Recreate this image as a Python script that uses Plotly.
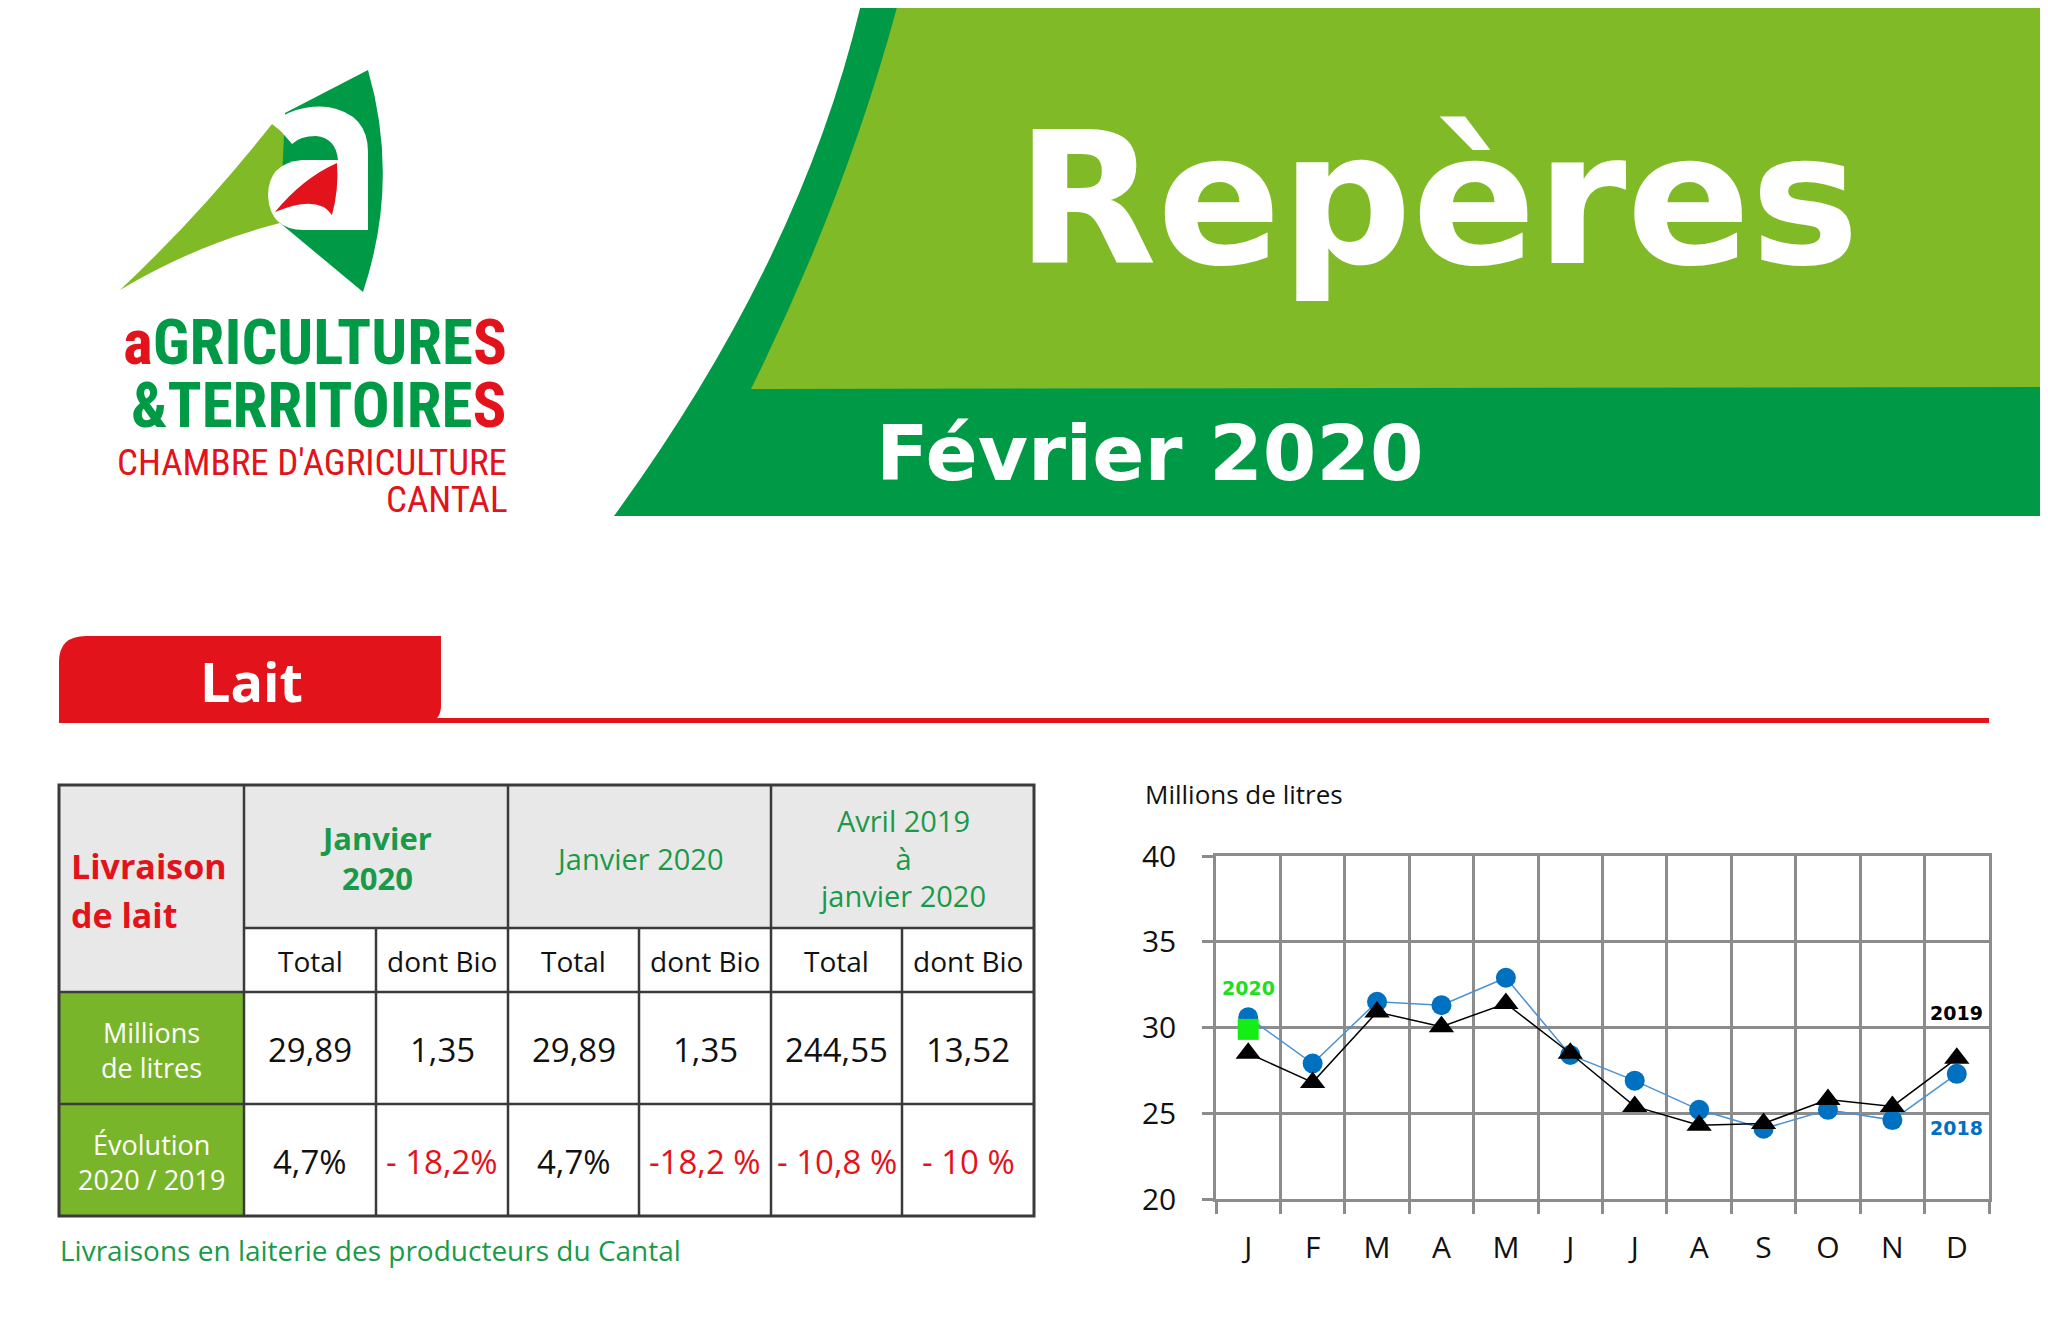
import plotly.graph_objects as go

W, H = 2048, 1344
OFF = 8                          # the page body margin shifts the figure by 8 px
FW, FH = W - OFF, H - 2 * OFF    # figure size that fills the window without scrollbars

# ---------------- data ----------------
months = ["J", "F", "M", "A", "M", "J", "J", "A", "S", "O", "N", "D"]
lait_2018 = [30.6, 27.9, 31.5, 31.3, 32.9, 28.4, 26.9, 25.2, 24.1, 25.2, 24.6, 27.3]
lait_2019 = [28.5, 26.8, 30.9, 30.05, 31.4, 28.5, 25.4, 24.3, 24.4, 25.8, 25.4, 28.2]
lait_2020 = [29.89]
series_names = ["2018", "2019", "2020"]
y_ticks = [20, 25, 30, 35, 40]

row_title = ["Livraison", "de lait"]
group_titles = [["Janvier", "2020"], ["Janvier 2020"], ["Avril 2019", "à", "janvier 2020"]]
sub_titles = ["Total", "dont Bio", "Total", "dont Bio", "Total", "dont Bio"]
row_labels = [["Millions", "de litres"], ["Évolution", "2020 / 2019"]]
volumes = ["29,89", "1,35", "29,89", "1,35", "244,55", "13,52"]
evolutions = ["4,7%", "- 18,2%", "4,7%", "-18,2 %", "- 10,8 %", "- 10 %"]

title_main = "Repères"
title_date = "Février 2020"
section = "Lait"
caption = "Livraisons en laiterie des producteurs du Cantal"
y_title = "Millions de litres"

# ---------------- colours ----------------
LIGHT_GREEN = "#80ba27"
DARK_GREEN = "#009a46"
RED = "#e3131b"
TABLE_GREEN = "#79b52b"
GRAY_CELL = "#e8e8e8"
TEXT_GREEN = "#1a9a48"
BLUE = "#0070c0"
BLUE_LINE = "#4b92d4"
GRID = "#8c8c8c"
BORDER = "#3a3a3a"
BRIGHT_GREEN = "#14ee14"
TXT = "#111111"

SANS = "Open Sans, Noto Sans, sans-serif"
VERD = "DejaVu Sans, Verdana, sans-serif"
NARROW = "Liberation Sans Narrow, Arial Narrow, Roboto Condensed, DejaVu Sans Condensed, sans-serif"


def fx(x):
    return (x - OFF) / FW


def fy(y):
    return 1 - (y - OFF) / FH


def path(cmds):
    out = []
    for c in cmds:
        op, nums = c[0], c[1:]
        pts = [f"{fx(nums[i]):.5f},{fy(nums[i + 1]):.5f}" for i in range(0, len(nums), 2)]
        out.append(op + " ".join(pts))
    return " ".join(out)


shapes = []
annotations = []


def add_path(cmds, color):
    shapes.append(dict(type="path", xref="paper", yref="paper", path=path(cmds),
                       fillcolor=color, line=dict(width=0), layer="above"))


def add_rect(x0, y0, x1, y1, fill=None, line_color=None, line_width=0):
    d = dict(type="rect", xref="paper", yref="paper", x0=fx(x0), x1=fx(x1), y0=fy(y1), y1=fy(y0),
             layer="above", line=dict(width=line_width, color=line_color or "rgba(0,0,0,0)"))
    d["fillcolor"] = fill if fill else "rgba(0,0,0,0)"
    shapes.append(d)


def add_line(x0, y0, x1, y1, color=BORDER, width=2.5):
    shapes.append(dict(type="line", xref="paper", yref="paper", x0=fx(x0), x1=fx(x1), y0=fy(y0), y1=fy(y1),
                       line=dict(color=color, width=width), layer="above"))


def add_text(s, x, y, size, color, family=SANS, bold=False, xanchor="center", yanchor="middle"):
    annotations.append(dict(text=s, x=fx(x), y=fy(y), xref="paper", yref="paper", showarrow=False,
                            xanchor=xanchor, yanchor=yanchor, borderpad=0,
                            font=dict(family=family, size=size, color=color,
                                      weight="bold" if bold else "normal")))


# ---------------- banner ----------------
add_path([("M", 862, -10), ("L", 2060, -10), ("L", 2060, 516), ("L", 614, 516), ("Q", 802, 258, 862, 0),
          ("Z",)], DARK_GREEN)
add_path([("M", 899, -10), ("L", 2060, -10), ("L", 2060, 387), ("L", 751, 389), ("Q", 847, 195, 899, 0),
          ("Z",)], LIGHT_GREEN)
add_text(title_main, 1437, 199, 183, "white", family=VERD, bold=True)
add_text(title_date, 1150, 454, 77, "white", family=VERD, bold=True)

# ---------------- logo ----------------
add_path([("M", 120, 290), ("Q", 200, 215, 272, 124), ("L", 292, 140), ("L", 340, 150), ("L", 340, 215),
          ("L", 280, 223), ("Q", 195, 245, 120, 290), ("Z",)], LIGHT_GREEN)
add_path([("M", 368, 70), ("L", 285, 113), ("L", 280, 223), ("L", 363, 292), ("Q", 400, 181, 368, 70), ("Z",)],
         DARK_GREEN)
add_path([("M", 273, 122), ("Q", 298, 104, 328, 107), ("Q", 368, 114, 368, 152), ("L", 368, 230),
          ("L", 338, 230), ("L", 338, 160), ("Q", 336, 138, 316, 136), ("Q", 300, 136, 292, 144), ("Z",)],
         "white")
add_path([("M", 338, 160), ("L", 302, 160), ("Q", 268, 163, 268, 196), ("Q", 270, 230, 304, 230),
          ("L", 338, 230), ("Z",)], "white")
add_path([("M", 275, 212), ("Q", 303, 178, 337, 163), ("Q", 339, 190, 332, 215), ("Q", 318, 194, 275, 212),
          ("Z",)], RED)
add_text(f"<span style='color:{RED}'>a</span>GRICULTURE<span style='color:{RED}'>S</span>",
         508, 343, 63, DARK_GREEN, family=NARROW, bold=True, xanchor="right")
add_text(f"&amp;TERRITOIRE<span style='color:{RED}'>S</span>",
         508, 405, 63, DARK_GREEN, family=NARROW, bold=True, xanchor="right")
add_text("CHAMBRE D'AGRICULTURE", 508, 462, 37, RED, family=NARROW, xanchor="right")
add_text("CANTAL", 508, 499, 37, RED, family=NARROW, xanchor="right")

# ---------------- section tab ----------------
add_path([("M", 59, 723), ("L", 59, 662), ("Q", 59, 636, 86, 636), ("L", 441, 636), ("L", 441, 706),
          ("Q", 441, 720, 428, 723), ("Z",)], RED)
add_rect(59, 718, 1989, 723, fill=RED)
add_text(section, 251, 681, 54, "white", bold=True)

# ---------------- table ----------------
cols = [59, 244, 376, 508, 639, 771, 902, 1034]
rows = [785, 928, 992, 1104, 1216]

add_rect(cols[0], rows[0], cols[1], rows[2], fill=GRAY_CELL)
add_rect(cols[1], rows[0], cols[7], rows[1], fill=GRAY_CELL)
add_rect(cols[1], rows[1], cols[7], rows[2], fill="white")
add_rect(cols[0], rows[2], cols[1], rows[4], fill=TABLE_GREEN)

for x in [cols[1], cols[3], cols[5]]:
    add_line(x, rows[0], x, rows[4])
for x in [cols[2], cols[4], cols[6]]:
    add_line(x, rows[1], x, rows[4])
add_line(cols[1], rows[1], cols[7], rows[1])
add_line(cols[0], rows[2], cols[7], rows[2])
add_line(cols[0], rows[3], cols[7], rows[3])
add_rect(cols[0], rows[0], cols[7], rows[4], line_color=BORDER, line_width=3)

# row title (two separate lines, wide spacing)
for s, y in zip(row_title, [866, 915]):
    add_text(s, 70, y, 34, RED, bold=True, xanchor="left")
# group titles
group_centers = [(cols[1] + cols[3]) / 2, (cols[3] + cols[5]) / 2, (cols[5] + cols[7]) / 2]
for gi, lines in enumerate(group_titles):
    add_text("<br>".join(lines), group_centers[gi], 858, 31 if gi == 0 else 29,
             TEXT_GREEN, bold=(gi == 0))
# sub titles
for i, s in enumerate(sub_titles):
    add_text(s, (cols[i + 1] + cols[i + 2]) / 2, 961, 28, TXT)
# row labels
for lines, yc in zip(row_labels, [1049.5, 1161.5]):
    add_text("<br>".join(lines), (cols[0] + cols[1]) / 2, yc, 27, "white")
# values
for i, s in enumerate(volumes):
    add_text(s, (cols[i + 1] + cols[i + 2]) / 2, 1049, 33, TXT)
for i, s in enumerate(evolutions):
    add_text(s, (cols[i + 1] + cols[i + 2]) / 2, 1161, 33, RED if s.startswith("-") else TXT)

add_text(caption, 59, 1250, 28, TEXT_GREEN, xanchor="left")

# ---------------- chart ----------------
month_idx = list(range(len(months)))
fig = go.Figure()
fig.add_trace(go.Scatter(x=month_idx, y=lait_2018, mode="lines+markers", name=series_names[0],
                         line=dict(color=BLUE_LINE, width=1.5),
                         marker=dict(symbol="circle", size=20, color=BLUE)))
fig.add_trace(go.Scatter(x=month_idx, y=lait_2019, mode="lines+markers", name=series_names[1],
                         line=dict(color="black", width=1.5),
                         marker=dict(symbol="triangle-up", size=22, color="black")))
fig.add_trace(go.Scatter(x=month_idx[:len(lait_2020)], y=lait_2020, mode="markers", name=series_names[2],
                         marker=dict(symbol="square", size=21, color=BRIGHT_GREEN)))

annotations.append(dict(text="<b>2020</b>", x=0, y=32.3, xref="x", yref="y", showarrow=False,
                        font=dict(family=VERD, size=19, color="#22dd22")))
annotations.append(dict(text="<b>2019</b>", x=11, y=30.86, xref="x", yref="y", showarrow=False,
                        font=dict(family=VERD, size=19, color="black")))
annotations.append(dict(text="<b>2018</b>", x=11, y=24.12, xref="x", yref="y", showarrow=False,
                        font=dict(family=VERD, size=19, color=BLUE)))
add_text(y_title, 1144, 794, 26, TXT, xanchor="left")

fig.update_layout(
    template="none",
    width=FW, height=FH, autosize=False,
    margin=dict(l=0, r=0, t=0, b=0, pad=0, autoexpand=False),
    paper_bgcolor="white", plot_bgcolor="white",
    showlegend=False,
    shapes=shapes, annotations=annotations,
    xaxis=dict(domain=[fx(1216), fx(1989)], range=[-0.5, 11.5], tickmode="array", tickvals=month_idx,
               ticktext=months, ticks="", showgrid=False, zeroline=False, automargin=False,
               showline=True, mirror=True, linecolor=GRID, linewidth=2.5,
               tickfont=dict(family=SANS, size=30, color=TXT), ticklabelstandoff=20,
               minor=dict(tickmode="array", tickvals=[i - 0.5 for i in range(13)], showgrid=True,
                          gridcolor=GRID, gridwidth=2.5, ticks="outside", ticklen=12,
                          tickcolor=GRID, tickwidth=2.5)),
    yaxis=dict(domain=[fy(1199), fy(856)], range=[20, 40], tickmode="array", tickvals=y_ticks,
               showgrid=True, gridcolor=GRID, gridwidth=2.5, zeroline=False, automargin=False,
               ticks="outside", ticklen=11, tickcolor=GRID, tickwidth=2.5,
               showline=True, mirror=True, linecolor=GRID, linewidth=2.5,
               tickfont=dict(family=SANS, size=30, color=TXT), ticklabelstandoff=20),
)

fig.write_html("out.html")
